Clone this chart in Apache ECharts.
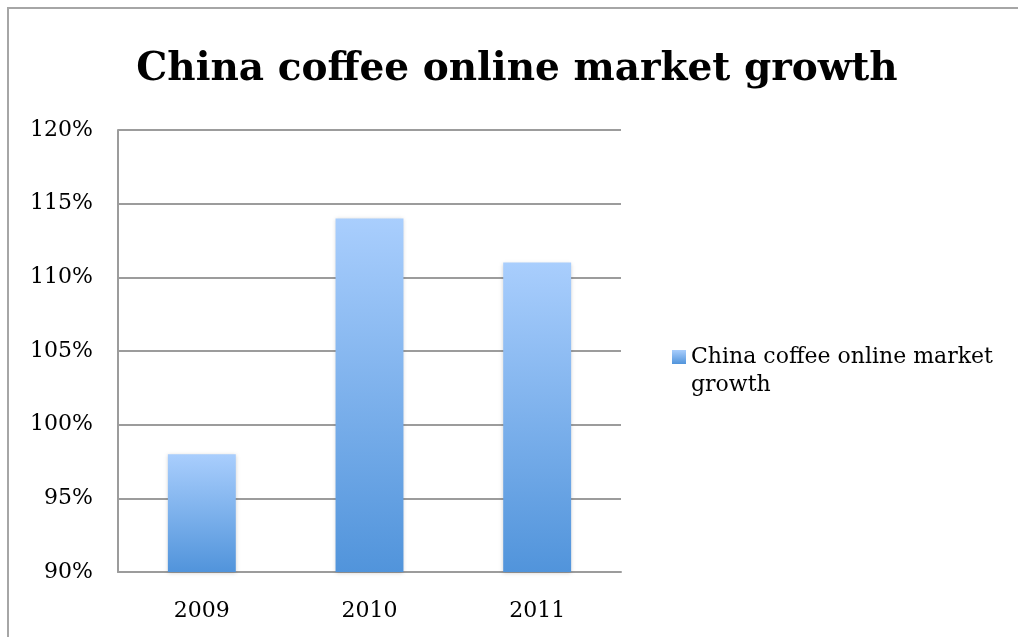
<!DOCTYPE html>
<html>
<head>
<meta charset="utf-8">
<script src="https://cdn.jsdelivr.net/npm/echarts@6/dist/echarts.min.js"></script>
<style>
  html, body { margin: 0; padding: 0; background: #fff; }
  #chart { width: 1018px; height: 637px; }
</style>
</head>
<body>
<div id="chart"></div>
<script>
// Annual growth of China's online coffee market (percent)
const years = ['2009', '2010', '2011'];
const growth = [98, 114, 111];
const yTicks = { min: 90, max: 120, step: 5 };
const seriesName = 'China coffee online market growth';
const titleText = 'China coffee online market growth';
const legendLines = ['China coffee online market', 'growth'];

const serif = '"DejaVu Serif", "Liberation Serif", serif';
const chart = echarts.init(document.getElementById('chart'));

const barGradient = new echarts.graphic.LinearGradient(0, 0, 0, 1, [
  { offset: 0, color: '#a9cefd' },
  { offset: 1, color: '#5194db' }
]);

chart.setOption({
  backgroundColor: '#ffffff',
  animation: false,
  graphic: [{
    // outer chart frame: left and top edges
    type: 'polyline',
    shape: { points: [[8, 700], [8, 8], [1100, 8]] },
    style: { fill: null, stroke: '#a6a6a6', lineWidth: 2 },
    silent: true
  }],
  title: {
    text: titleText,
    left: 512,
    top: 45,
    textAlign: 'center',
    textStyle: { fontFamily: serif, fontWeight: 'bold', fontSize: 39, color: '#000' }
  },
  legend: {
    left: 667,
    top: 310,
    icon: 'rect',
    itemWidth: 14,
    itemHeight: 14,
    // leading blank line keeps the first text line level with the swatch
    formatter: () => '\n' + legendLines.join('\n'),
    itemStyle: { color: barGradient, shadowBlur: 0 },
    textStyle: { fontFamily: serif, fontSize: 22, color: '#000', lineHeight: 28 }
  },
  grid: { left: 118, right: 397, top: 130, bottom: 65 },
  xAxis: {
    type: 'category',
    data: years,
    axisLine: { lineStyle: { color: '#9c9c9c', width: 2 } },
    axisTick: { show: false },
    axisLabel: { fontFamily: serif, fontSize: 22, color: '#000', margin: 28 }
  },
  yAxis: {
    type: 'value',
    min: yTicks.min,
    max: yTicks.max,
    interval: yTicks.step,
    axisLine: { show: true, lineStyle: { color: '#9c9c9c', width: 2 } },
    axisTick: { show: false },
    splitLine: { lineStyle: { color: '#9c9c9c', width: 2 } },
    axisLabel: { fontFamily: serif, fontSize: 22, color: '#000', margin: 25, formatter: v => v + '%' }
  },
  series: [{
    name: seriesName,
    type: 'bar',
    data: growth,
    barWidth: '40.5%',
    itemStyle: {
      color: barGradient,
      shadowColor: 'rgba(0,0,0,0.18)',
      shadowBlur: 4,
      shadowOffsetY: 1
    }
  }]
});
</script>
</body>
</html>
